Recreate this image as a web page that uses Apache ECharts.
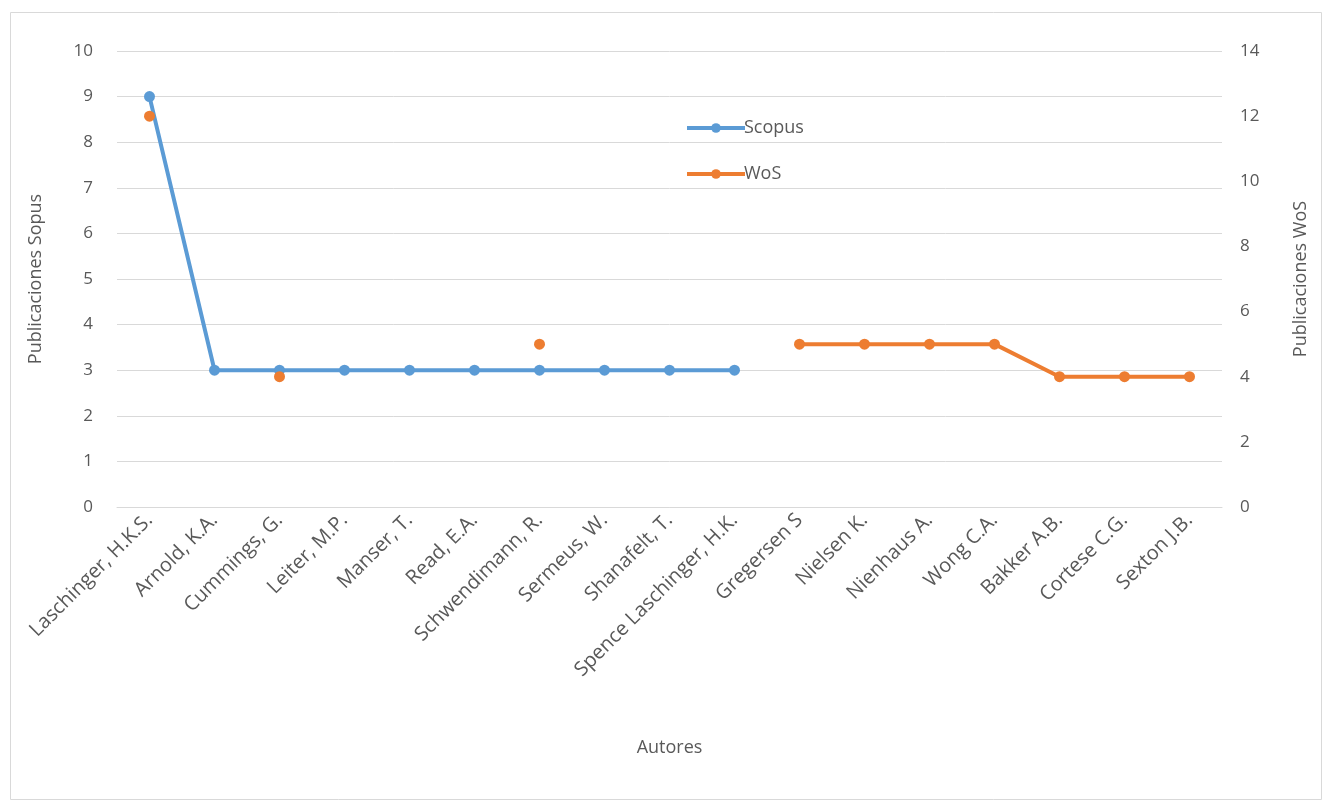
<!DOCTYPE html>
<html><head><meta charset="utf-8">
<script src="https://cdn.jsdelivr.net/npm/echarts@6/dist/echarts.min.js"></script>
<style>html,body{margin:0;padding:0;background:#fff}#c{width:1323px;height:807px}</style>
</head><body><div id="c"></div>
<script>
const categories = ["Laschinger, H.K.S.","Arnold, K.A.","Cummings, G.","Leiter, M.P.","Manser, T.","Read, E.A.","Schwendimann, R.","Sermeus, W.","Shanafelt, T.","Spence Laschinger, H.K.","Gregersen S","Nielsen K.","Nienhaus A.","Wong C.A.","Bakker A.B.","Cortese C.G.","Sexton J.B."];
const scopus = [9,3,3,3,3,3,3,3,3,3,null,null,null,null,null,null,null];
const wos = [12,null,4,null,null,null,5,null,null,null,5,5,5,5,4,4,4];
const leftTicks = {min:0,max:10,interval:1};
const rightTicks = {min:0,max:14,interval:2};
const FONT = "'Open Sans', 'Liberation Sans', sans-serif";
const TXT = '#595959';
const chart = echarts.init(document.getElementById('c'));
chart.setOption({
  animation:false,
  textStyle:{fontFamily:FONT},
  graphic:[{type:'rect',shape:{x:10.5,y:12.5,width:1311,height:787},style:{fill:'none',stroke:'#d9d9d9',lineWidth:1}}],
  grid:{left:117,right:101,top:51,bottom:300},
  legend:{orient:'vertical',left:680,top:114,itemGap:28,itemWidth:58,itemHeight:12,
    lineStyle:{width:4},
    textStyle:{fontSize:18,color:TXT,fontFamily:FONT,padding:[0,0,0,-6]},
    data:['Scopus','WoS']},
  xAxis:{type:'category',data:categories,boundaryGap:true,
    axisLine:{show:true,lineStyle:{color:'#d9d9d9'}},axisTick:{show:false},
    axisLabel:{rotate:45,fontSize:20,color:TXT,fontFamily:FONT,interval:0,margin:10},
    name:'Autores',nameLocation:'middle',nameGap:232,nameTextStyle:{fontSize:18,color:TXT,fontFamily:FONT}},
  yAxis:[
    {type:'value',min:leftTicks.min,max:leftTicks.max,interval:leftTicks.interval,
     axisLine:{show:false},axisTick:{show:false},
     splitLine:{lineStyle:{color:'#d9d9d9',width:1}},
     axisLabel:{fontSize:17,color:TXT,fontFamily:FONT,margin:24},
     name:'Publicaciones Sopus',nameLocation:'middle',nameGap:72,nameRotate:90,
     nameTextStyle:{fontSize:18,color:TXT,fontFamily:FONT}},
    {type:'value',min:rightTicks.min,max:rightTicks.max,interval:rightTicks.interval,
     axisLine:{show:false},axisTick:{show:false},splitLine:{show:false},alignTicks:false,
     axisLabel:{fontSize:17,color:TXT,fontFamily:FONT,margin:18},
     name:'Publicaciones WoS',nameLocation:'middle',nameGap:70,nameRotate:90,
     nameTextStyle:{fontSize:18,color:TXT,fontFamily:FONT}}
  ],
  series:[
    {name:'Scopus',type:'line',data:scopus,yAxisIndex:0,symbol:'circle',symbolSize:11,showAllSymbol:true,
     connectNulls:false,lineStyle:{color:'#5B9BD5',width:4},itemStyle:{color:'#5B9BD5'}},
    {name:'WoS',type:'line',data:wos,yAxisIndex:1,symbol:'circle',symbolSize:11,showAllSymbol:true,
     connectNulls:false,lineStyle:{color:'#ED7D31',width:4},itemStyle:{color:'#ED7D31'}}
  ]
});
</script></body></html>
